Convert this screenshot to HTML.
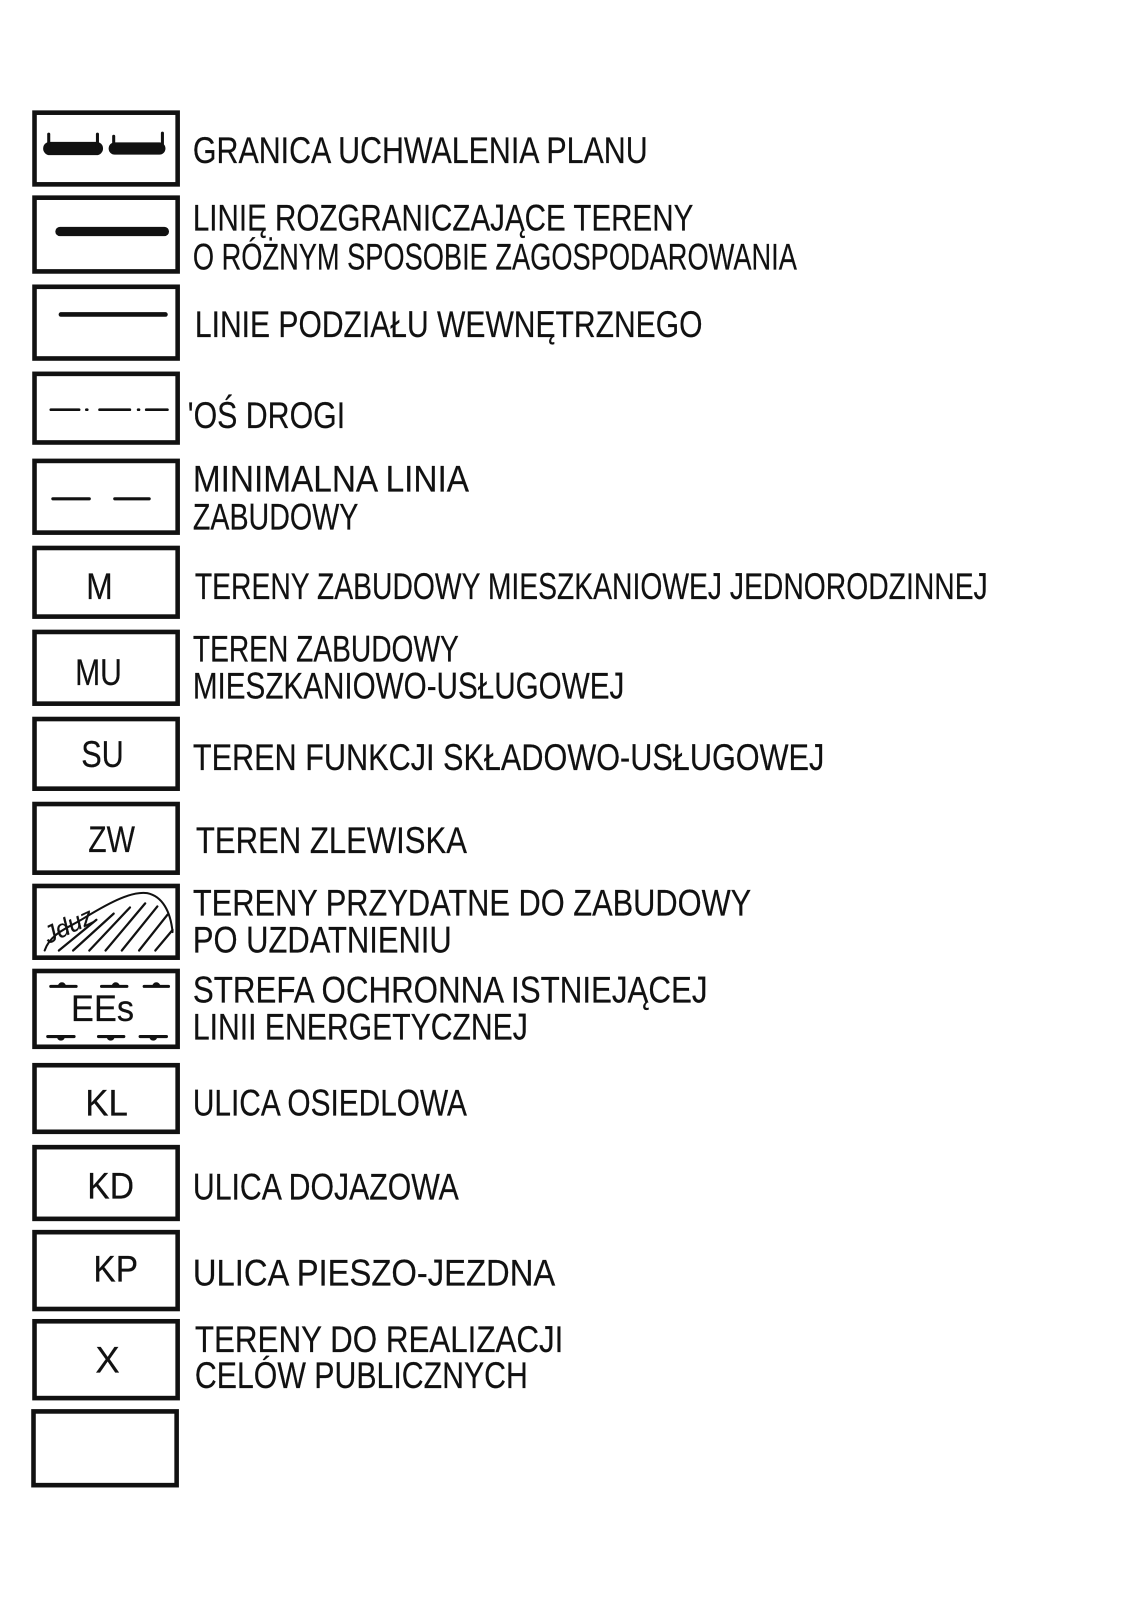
<!DOCTYPE html>
<html><head><meta charset="utf-8"><style>
html,body{margin:0;padding:0;background:#fff;}
svg{display:block;}
text{font-family:"Liberation Sans",sans-serif;font-size:36px;fill:#111;stroke:#111;stroke-width:0.2;}
</style></head><body>
<svg width="1141" height="1605" viewBox="0 0 1124 1567" preserveAspectRatio="none" xmlns="http://www.w3.org/2000/svg">
<g fill="none" stroke="#111" stroke-width="4.5">
<rect x="34" y="110" width="141" height="70"/>
<rect x="34" y="193" width="141" height="72"/>
<rect x="34" y="280" width="141" height="70"/>
<rect x="34" y="365" width="141" height="67"/>
<rect x="34" y="450" width="141" height="70"/>
<rect x="34" y="535" width="141" height="67"/>
<rect x="34" y="617" width="141" height="70"/>
<rect x="34" y="702" width="141" height="68"/>
<rect x="34" y="785" width="141" height="67"/>
<rect x="34" y="865" width="141" height="70"/>
<rect x="34" y="948" width="141" height="74"/>
<rect x="34" y="1040" width="141" height="65"/>
<rect x="34" y="1120" width="141" height="70"/>
<rect x="34" y="1203" width="141" height="75"/>
<rect x="34" y="1290" width="141" height="75"/>
<rect x="33" y="1378" width="141" height="72"/>
</g>
<g stroke="#111" stroke-linecap="round" fill="none">
<line x1="49" y1="145" x2="95" y2="145" stroke-width="13"/>
<line x1="113" y1="145" x2="157" y2="145" stroke-width="12"/>
<line x1="48" y1="131" x2="48" y2="145" stroke-width="3"/>
<line x1="96" y1="131" x2="96" y2="145" stroke-width="3"/>
<line x1="112" y1="133" x2="112" y2="145" stroke-width="3"/>
<line x1="160" y1="130" x2="160" y2="145" stroke-width="3"/>
<line x1="59" y1="226" x2="162" y2="226" stroke-width="9"/>
<line x1="60" y1="307" x2="163" y2="307" stroke-width="4.5"/>
<line x1="50" y1="400" x2="78" y2="400" stroke-width="2.5"/>
<line x1="85" y1="400" x2="86" y2="400" stroke-width="2.5"/>
<line x1="98" y1="400" x2="128" y2="400" stroke-width="2.5"/>
<line x1="136" y1="400" x2="137" y2="400" stroke-width="2.5"/>
<line x1="144" y1="400" x2="165" y2="400" stroke-width="2.5"/>
<line x1="52" y1="487" x2="88" y2="487" stroke-width="3"/>
<line x1="113" y1="487" x2="147" y2="487" stroke-width="3"/>
<path d="M44 928 C50 910 70 905 85 895 C110 880 130 870 145 872 C160 875 168 890 170 910" stroke-width="2"/>
<g stroke-width="2.2">
<line x1="58" y1="928" x2="95" y2="898"/>
<line x1="72" y1="928" x2="112" y2="892"/>
<line x1="88" y1="928" x2="128" y2="886"/>
<line x1="104" y1="928" x2="143" y2="882"/>
<line x1="120" y1="928" x2="155" y2="885"/>
<line x1="137" y1="928" x2="165" y2="893"/>
<line x1="153" y1="928" x2="170" y2="908"/>
</g>
<g stroke-width="3">
<line x1="50" y1="963" x2="75" y2="963"/><line x1="100" y1="963" x2="125" y2="963"/><line x1="142" y1="963" x2="166" y2="963"/>
<line x1="47" y1="1012" x2="73" y2="1012"/><line x1="97" y1="1012" x2="122" y2="1012"/><line x1="138" y1="1012" x2="164" y2="1012"/>
</g>
</g>
<g fill="#111">
<path d="M57 963 a4 4 0 0 1 8 0z M110 963 a4 4 0 0 1 8 0z M150 963 a4 4 0 0 1 8 0z M56 1012 a4 4 0 0 0 8 0z M105 1012 a4 4 0 0 0 8 0z M147 1012 a4 4 0 0 0 8 0z"/>
</g>
<text x="42" y="915" style="font-size:24px;font-style:italic" transform="rotate(-25 60 905)">Jduz</text>
<text x="70" y="997" textLength="62" lengthAdjust="spacingAndGlyphs">EEs</text>
<text x="85" y="585" textLength="26" lengthAdjust="spacingAndGlyphs">M</text>
<text x="74" y="669" textLength="46" lengthAdjust="spacingAndGlyphs">MU</text>
<text x="80" y="749" textLength="42" lengthAdjust="spacingAndGlyphs">SU</text>
<text x="87" y="832" textLength="46" lengthAdjust="spacingAndGlyphs">ZW</text>
<text x="84" y="1089" textLength="42" lengthAdjust="spacingAndGlyphs">KL</text>
<text x="86" y="1170" textLength="46" lengthAdjust="spacingAndGlyphs">KD</text>
<text x="92" y="1251" textLength="44" lengthAdjust="spacingAndGlyphs">KP</text>
<text x="94" y="1340" textLength="24" lengthAdjust="spacingAndGlyphs">X</text>
<g>
<text x="190" y="159" textLength="448" lengthAdjust="spacingAndGlyphs">GRANICA UCHWALENIA  PLANU</text>
<text x="190" y="225" textLength="493" lengthAdjust="spacingAndGlyphs">LINIĘ ROZGRANICZAJĄCE TERENY</text>
<text x="190" y="263" textLength="595" lengthAdjust="spacingAndGlyphs">O RÓŻNYM  SPOSOBIE  ZAGOSPODAROWANIA</text>
<text x="192" y="329" textLength="500" lengthAdjust="spacingAndGlyphs">LINIE  PODZIAŁU  WEWNĘTRZNEGO</text>
<text x="185" y="418" textLength="155" lengthAdjust="spacingAndGlyphs">'OŚ  DROGI</text>
<text x="190" y="480" textLength="272" lengthAdjust="spacingAndGlyphs">MINIMALNA  LINIA</text>
<text x="190" y="517" textLength="163" lengthAdjust="spacingAndGlyphs">ZABUDOWY</text>
<text x="192" y="585" textLength="781" lengthAdjust="spacingAndGlyphs">TERENY  ZABUDOWY MIESZKANIOWEJ JEDNORODZINNEJ</text>
<text x="190" y="646" textLength="262" lengthAdjust="spacingAndGlyphs">TEREN ZABUDOWY</text>
<text x="190" y="682" textLength="425" lengthAdjust="spacingAndGlyphs">MIESZKANIOWO-USŁUGOWEJ</text>
<text x="190" y="752" textLength="622" lengthAdjust="spacingAndGlyphs">TEREN  FUNKCJI  SKŁADOWO-USŁUGOWEJ</text>
<text x="193" y="833" textLength="267" lengthAdjust="spacingAndGlyphs">TEREN  ZLEWISKA</text>
<text x="190" y="894" textLength="550" lengthAdjust="spacingAndGlyphs">TERENY  PRZYDATNE  DO ZABUDOWY</text>
<text x="190" y="930" textLength="255" lengthAdjust="spacingAndGlyphs">PO  UZDATNIENIU</text>
<text x="190" y="979" textLength="507" lengthAdjust="spacingAndGlyphs">STREFA  OCHRONNA  ISTNIEJĄCEJ</text>
<text x="190" y="1015" textLength="330" lengthAdjust="spacingAndGlyphs">LINII ENERGETYCZNEJ</text>
<text x="190" y="1089" textLength="270" lengthAdjust="spacingAndGlyphs">ULICA  OSIEDLOWA</text>
<text x="190" y="1171" textLength="262" lengthAdjust="spacingAndGlyphs">ULICA  DOJAZOWA</text>
<text x="190" y="1255" textLength="357" lengthAdjust="spacingAndGlyphs">ULICA  PIESZO-JEZDNA</text>
<text x="192" y="1320" textLength="363" lengthAdjust="spacingAndGlyphs">TERENY  DO REALIZACJI</text>
<text x="192" y="1355" textLength="328" lengthAdjust="spacingAndGlyphs">CELÓW  PUBLICZNYCH</text>
</g>
</svg>
</body></html>
